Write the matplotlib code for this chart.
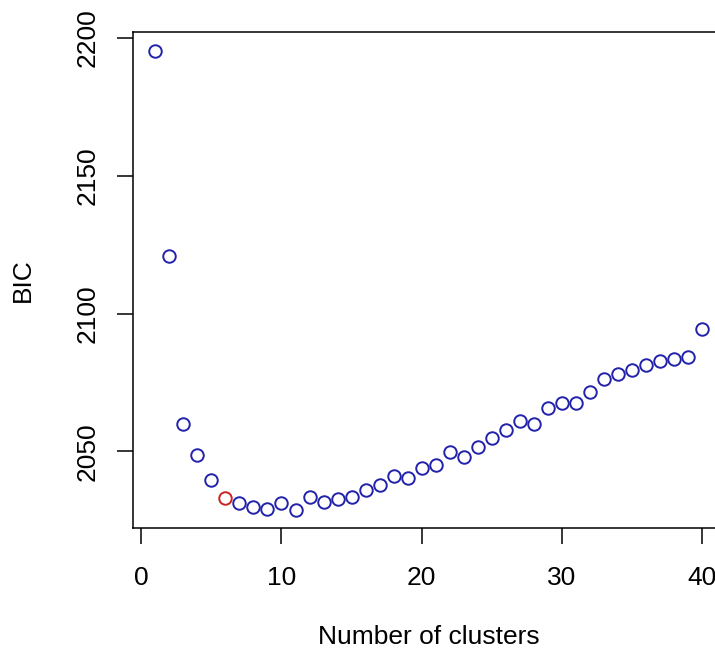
# BIC vs number of clusters (R style scatter)

import matplotlib.pyplot as plt

plt.rcParams['font.family'] = ['Liberation Sans', 'DejaVu Sans']

clusters = list(range(1, 41))
bic = [2195.3, 2120.7, 2060.0, 2048.7, 2039.8, 2033.0, 2031.2, 2030.0, 2029.0, 2031.3,
       2028.8, 2033.3, 2031.5, 2032.9, 2033.6, 2036.1, 2037.9, 2041.2, 2040.4, 2043.9,
       2045.1, 2049.7, 2047.9, 2051.5, 2054.8, 2057.6, 2060.9, 2060.0, 2065.8, 2067.6,
       2067.5, 2071.5, 2076.1, 2077.9, 2079.6, 2081.2, 2082.9, 2083.5, 2084.4, 2094.5]
best_k = 6

fig = plt.figure(figsize=(7.15, 6.56), dpi=100)
ax = fig.add_axes([0.1865, 0.1947, 0.8264, 0.7561])

colors = ['#cc2222' if k == best_k else '#2222aa' for k in clusters]
for k, b, c in zip(clusters, bic, colors):
    ax.plot(k, b, 'o', mfc='none', mec=c, ms=9, mew=1.4)

ax.margins(x=0.04, y=0.04)
ax.set_xticks([0, 10, 20, 30, 40])
ax.set_yticks([2050, 2100, 2150, 2200])
ax.tick_params(direction='out', length=11.5, width=1.1, labelsize=19)
ax.tick_params(axis='x', pad=16)
ax.tick_params(axis='y', pad=13)
plt.setp(ax.get_yticklabels(), rotation=90, va='center')
for s in ax.spines.values():
    s.set_linewidth(1.1)

ax.set_xlabel('Number of clusters', fontsize=19)
ax.set_ylabel('BIC', fontsize=19)
ax.xaxis.set_label_coords(0.5, -0.219)
ax.xaxis.label.set_va('center')
ax.yaxis.set_label_coords(-0.1867, 0.5)
ax.yaxis.label.set_va('center')

fig.savefig('out.png', dpi=100)
